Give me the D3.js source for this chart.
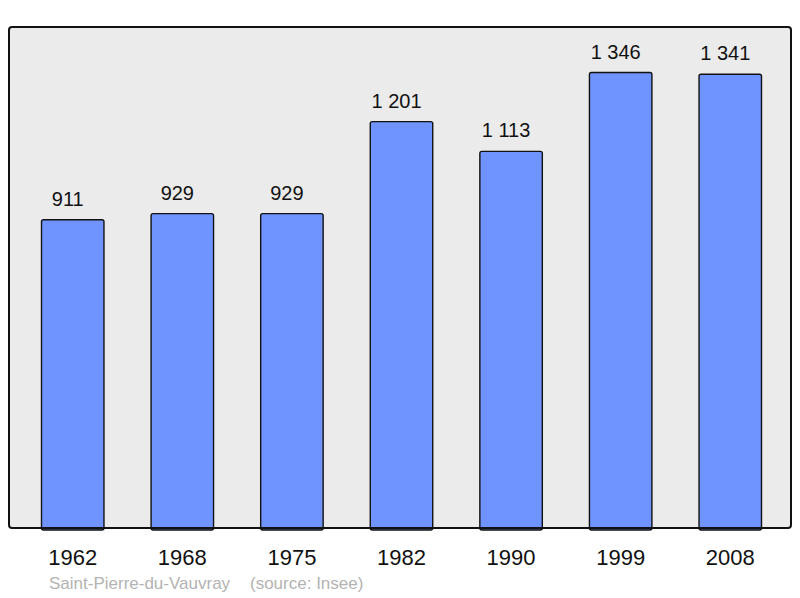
<!DOCTYPE html>
<html>
<head>
<meta charset="utf-8">
<script src="https://cdn.jsdelivr.net/npm/d3@7"></script>
<style>
  body { margin: 0; background: #fff; }
  svg { display: block; font-family: "Liberation Sans", Arial, sans-serif; }
</style>
</head>
<body>
<div id="container"></div>
<script>
// population by census year
const years = ["1962", "1968", "1975", "1982", "1990", "1999", "2008"];
const population = [911, 929, 929, 1201, 1113, 1346, 1341];
const commune = "Saint-Pierre-du-Vauvray";
const source = "(source: Insee)";

const width = 800, height = 598;
const frame = {left: 9, top: 27, right: 791, bottom: 528};

const fmt = (v) => d3.format(",")(v).replace(/,/g, " ");

const svg = d3.select("#container").append("svg")
  .attr("width", width)
  .attr("height", height)
  .attr("viewBox", [0, 0, width, height]);

const x = d3.scaleBand()
  .domain(years)
  .range([41.5, 761.5])
  .paddingInner(0.43)
  .paddingOuter(0);

const y = d3.scaleLinear()
  .domain([0, d3.max(population) * 1.1])
  .range([frame.bottom, frame.top]);

// plot background
svg.append("rect")
  .attr("x", frame.left)
  .attr("y", frame.top)
  .attr("width", frame.right - frame.left)
  .attr("height", frame.bottom - frame.top)
  .attr("rx", 3)
  .attr("fill", "#ebebeb");

const data = years.map((yr, i) => ({year: yr, value: population[i]}));

svg.append("g")
  .selectAll("rect")
  .data(data)
  .join("rect")
  .attr("x", (d) => x(d.year))
  .attr("y", (d) => y(d.value))
  .attr("width", x.bandwidth())
  .attr("height", (d) => y(0) - y(d.value) + 2)
  .attr("rx", 2)
  .attr("fill", "#7094ff")
  .attr("stroke", "#111")
  .attr("stroke-width", 1.4);

// value labels (sit a little left of the bar centre, like the original)
svg.append("g")
  .attr("text-anchor", "middle")
  .attr("font-size", 20)
  .attr("fill", "#111")
  .selectAll("text")
  .data(data)
  .join("text")
  .attr("x", (d) => x(d.year) + x.bandwidth() / 2 - 5)
  .attr("y", (d) => y(d.value) - 14)
  .text((d) => fmt(d.value));

// frame border on top of bars
svg.append("rect")
  .attr("x", frame.left)
  .attr("y", frame.top)
  .attr("width", frame.right - frame.left)
  .attr("height", frame.bottom - frame.top)
  .attr("rx", 3)
  .attr("fill", "none")
  .attr("stroke", "#111")
  .attr("stroke-width", 2);

// year axis (no line, no ticks)
const xAxis = svg.append("g")
  .attr("transform", `translate(0,${frame.bottom})`)
  .call(d3.axisBottom(x).tickSize(0).tickPadding(37));
xAxis.select(".domain").remove();
xAxis.selectAll("text")
  .attr("font-size", 22)
  .attr("font-family", "Liberation Sans, Arial, sans-serif")
  .attr("fill", "#111")
  .attr("dy", 0);

svg.append("text")
  .attr("x", 49)
  .attr("y", 589)
  .attr("font-size", 17)
  .attr("fill", "#b3b3b3")
  .text(commune);

svg.append("text")
  .attr("x", 250)
  .attr("y", 589)
  .attr("font-size", 17)
  .attr("fill", "#b3b3b3")
  .text(source);
</script>
</body>
</html>
